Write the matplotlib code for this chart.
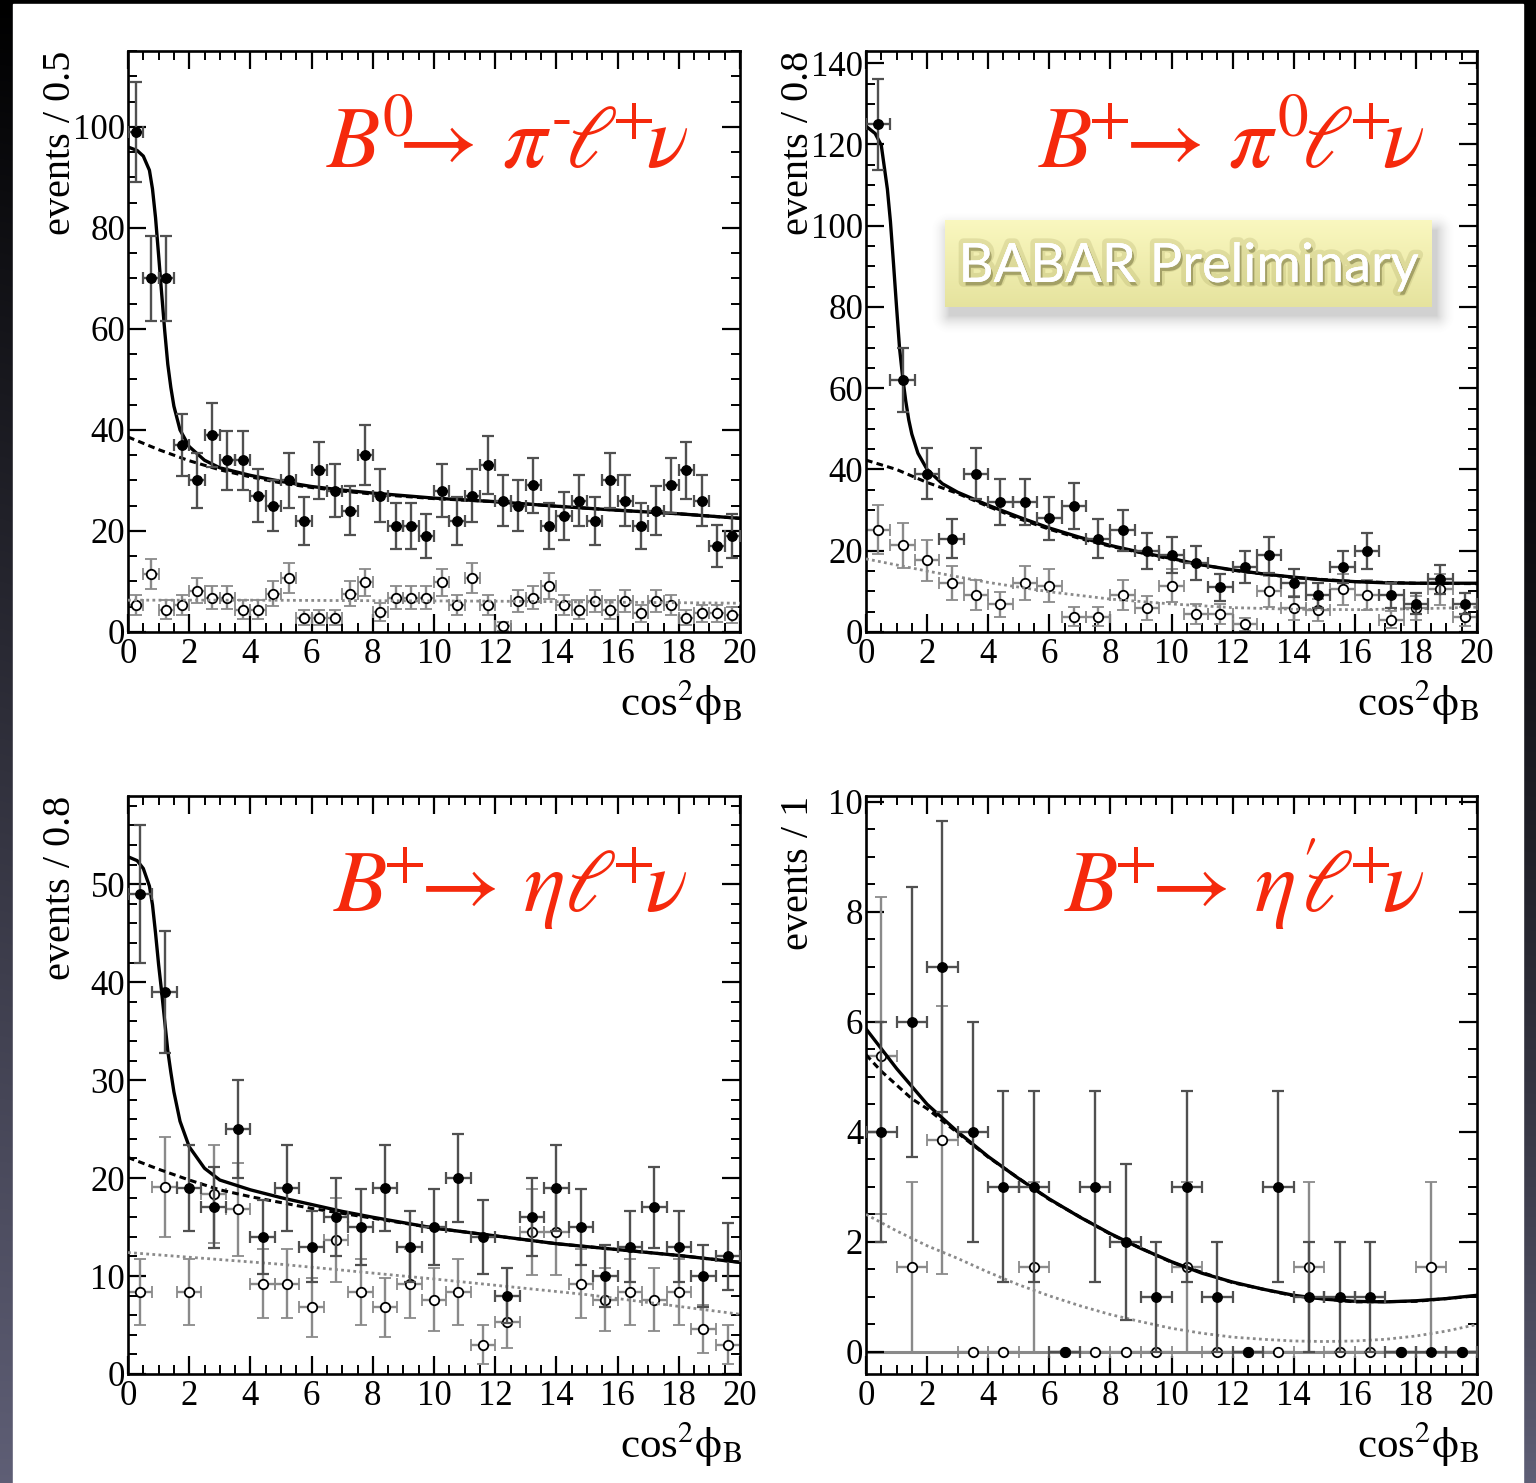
import numpy as np
import matplotlib
matplotlib.use('Agg')
import matplotlib.pyplot as plt
from matplotlib import patheffects
from matplotlib.patches import Rectangle
from matplotlib.ticker import MultipleLocator

plt.rcParams['font.family'] = ['Liberation Serif', 'DejaVu Serif']
plt.rcParams['mathtext.fontset'] = 'stix'

# ---- B0 -> pi- l+ nu  (bins of 0.5) ----
pim_width = 0.5
pim_counts = [99, 70, 70, 37, 30, 39, 34, 34, 27, 25, 30, 22, 32, 28, 24, 35, 27, 21, 21, 19,
              28, 22, 27, 33, 26, 25, 29, 21, 23, 26, 22, 30, 26, 21, 24, 29, 32, 26, 17, 19]
pim_offres = [5.3, 11.5, 4.4, 5.3, 8.2, 6.8, 6.8, 4.4, 4.4, 7.6, 10.7, 2.8, 2.8, 2.8, 7.6, 9.8,
              3.9, 6.8, 6.8, 6.8, 9.8, 5.3, 10.7, 5.3, 1.1, 6.1, 6.8, 9.1, 5.3, 4.4, 6.1, 4.4,
              6.1, 3.7, 6.1, 5.3, 2.8, 3.7, 3.7, 3.4]
pim_offres_w = 0.78
pim_tot_x = [0, 0.3, 0.5, 0.7, 0.8, 0.9, 1.0, 1.1, 1.2, 1.3, 1.4, 1.5, 1.7, 2.0, 2.5, 3, 4, 5,
             6, 7, 8, 10, 12, 14, 16, 18, 20]
pim_tot_y = [96, 95.3, 94.2, 91.4, 87.7, 82, 74.6, 67, 59.6, 53, 48.4, 44.7, 40, 36.7, 34,
             32.5, 31.0, 29.8, 28.8, 28.1, 27.5, 26.5, 25.8, 24.9, 24.1, 23.4, 22.5]
pim_bkg_x = [0, 1, 2, 3, 4, 5, 6, 7, 8, 10, 12, 14, 16, 18, 20]
pim_bkg_y = [38.6, 36.1, 33.9, 32.1, 30.7, 29.5, 28.6, 27.9, 27.3, 26.4, 25.8, 24.9, 24.1, 23.4, 22.5]
pim_cont_x = [0, 4, 8, 12, 16, 20]
pim_cont_y = [6.3, 6.3, 6.2, 6.1, 5.9, 5.7]

# ---- B+ -> pi0 l+ nu  (bins of 0.8) ----
pi0_width = 0.8
pi0_counts = [125, 62, 39, 23, 39, 32, 32, 28, 31, 23, 25, 20, 19, 17, 11, 16, 19, 12, 9, 16,
              20, 9, 7, 13, 7]
pi0_offres = [25.2, 21.3, 17.6, 12.0, 9.1, 6.8, 12.0, 11.4, 3.8, 3.8, 9.1, 5.9, 11.4, 4.4, 4.4,
              1.9, 10.0, 5.9, 5.4, 10.5, 9.1, 3.0, 6.0, 10.5, 3.8]
pi0_offres_w = 1.43
pi0_tot_x = [0, 0.3, 0.5, 0.7, 0.8, 0.9, 1.0, 1.1, 1.2, 1.3, 1.4, 1.5, 1.7, 2.0, 2.5, 3, 4, 5,
             6, 7, 8, 9, 10, 11, 12, 13, 14, 15, 16, 17, 18, 20]
pi0_tot_y = [124.5, 122.7, 119.8, 109, 101, 90.7, 80, 69.7, 62.7, 56.9, 52.2, 48.7, 44, 40,
             36.5, 34.4, 31.2, 28.3, 25.6, 23.3, 21.3, 19.6, 18.1, 16.5, 15.3, 14.3, 13.5,
             12.8, 12.4, 12.1, 12.0, 12.0]
pi0_bkg_x = [0, 1, 2, 3, 4, 5, 6, 7, 8, 10, 12, 14, 16, 18, 20]
pi0_bkg_y = [42.3, 40, 36.8, 34.1, 30.9, 27.9, 25.3, 23, 21.1, 17.9, 15.2, 13.4, 12.4, 12, 11.9]
pi0_cont_x = [0, 2, 4, 6, 8, 10, 12, 14, 16, 18, 20]
pi0_cont_y = [18, 15, 12.2, 9.9, 8.1, 6.9, 6.0, 5.6, 5.5, 5.7, 6.1]

# ---- B+ -> eta l+ nu  (bins of 0.8) ----
eta_width = 0.8
eta_counts = [49, 39, 19, 17, 25, 14, 19, 13, 16, 15, 19, 13, 15, 20, 14, 8, 16, 19, 15, 10,
              13, 17, 13, 10, 12]
eta_offres = [8.4, 19.1, 8.4, 18.4, 16.8, 9.2, 9.2, 6.8, 13.7, 8.4, 6.8, 9.2, 7.6, 8.4, 3.0,
              5.3, 14.5, 14.5, 9.2, 7.6, 8.4, 7.6, 8.4, 4.6, 3.0]
eta_offres_w = 1.35
eta_tot_x = [0, 0.3, 0.5, 0.7, 0.8, 0.9, 1.0, 1.1, 1.2, 1.3, 1.4, 1.5, 1.7, 2.0, 2.5, 3, 4, 5,
             6, 7, 8, 10, 12, 14, 16, 18, 20]
eta_tot_y = [52.8, 52.4, 51.6, 49.8, 47.9, 45, 41.8, 39, 36, 33, 30.8, 28.8, 25.8, 23.2, 21,
             19.8, 18.8, 18, 17.3, 16.6, 16, 14.9, 14.1, 13.3, 12.7, 12.1, 11.4]
eta_bkg_x = [0, 1, 2, 3, 4, 5, 6, 7, 8, 10, 12, 14, 16, 18, 20]
eta_bkg_y = [22.1, 20.9, 19.8, 18.8, 18.1, 17.5, 16.9, 16.4, 15.9, 14.9, 14.1, 13.3, 12.7, 12.1, 11.4]
eta_cont_x = [0, 5, 10, 15, 20]
eta_cont_y = [12.4, 11.2, 9.7, 8.1, 6.1]

# ---- B+ -> eta' l+ nu  (bins of 1) ----
etap_width = 1.0
etap_counts = [4, 6, 7, 4, 3, 3, 0, 3, 2, 1, 3, 1, 0, 3, 1, 1, 1, 0, 0, 0]
etap_offres = [5.38, 1.54, 3.85, 0, 0, 1.54, 0, 0, 0, 0, 1.54, 0, 0, 0, 1.54, 0, 0, 0, 1.54, 0]
etap_offres_w = 1.54
etap_tot_x = [0, 1, 2, 3, 4, 5, 6, 7, 8, 9, 10, 11, 12, 13, 14, 15, 16, 17, 18, 19, 20]
etap_tot_y = [5.87, 5.15, 4.5, 4.0, 3.55, 3.15, 2.78, 2.45, 2.15, 1.88, 1.64, 1.43, 1.27,
              1.14, 1.03, 0.96, 0.92, 0.91, 0.93, 0.97, 1.03]
etap_bkg_x = [0, 0.5, 1, 1.5, 2, 3, 4, 6, 8, 10, 12, 14, 16, 18, 20]
etap_bkg_y = [5.4, 5.1, 4.85, 4.6, 4.42, 3.98, 3.54, 2.77, 2.14, 1.63, 1.26, 1.02, 0.91, 0.92, 1.02]
etap_cont_x = [0, 1, 2, 3, 4, 5, 6, 7, 8, 9, 10, 11, 12, 13, 14, 15, 16, 17, 18, 19, 20]
etap_cont_y = [2.5, 2.2, 1.93, 1.7, 1.45, 1.22, 1.02, 0.84, 0.68, 0.55, 0.43, 0.34, 0.27,
               0.23, 0.2, 0.19, 0.2, 0.23, 0.29, 0.38, 0.5]

RED = '#f5290c'

fig = plt.figure(figsize=(15.36, 14.83), dpi=100)

# dark slide background with a white sheet on top
bg = fig.add_axes([0, 0, 1, 1])
bg.set_axis_off()
yy, xx = np.mgrid[0:1:300j, 0:1:300j]
shade = yy ** (1.0 + 0.9 * xx)
bg.imshow(shade[..., None] * np.array([0.37, 0.37, 0.46]), extent=[0, 1536, 1483, 0],
          aspect='auto', interpolation='bilinear')
bg.add_patch(Rectangle((13, 4), 1510, 1479, color='white'))
bg.set_xlim(0, 1536)
bg.set_ylim(1483, 0)


def draw_panel(rect, width, counts, offres, w, tot, bkg, cont, ylim, major, minor,
               ylabel, title, zero_line=False):
    ax = fig.add_axes(rect)
    n = len(counts)
    centers = width * (np.arange(n) + 0.5)
    counts = np.asarray(counts, float)
    offres = np.asarray(offres, float)

    if zero_line:
        ax.axhline(0, color='#8a8a8a', lw=2.2, zorder=1)
    ax.errorbar(centers, offres, xerr=width / 2, yerr=np.sqrt(offres * w), fmt='o',
                ms=6.8, mfc='white', mec='black', mew=1.3, ecolor='#8a8a8a',
                elinewidth=1.7, capsize=4, capthick=1.6, zorder=2)
    ax.plot(cont[0], cont[1], color='#8a8a8a', lw=2, ls=(0, (1, 1.2)), zorder=3)
    ax.plot(bkg[0], bkg[1], color='black', lw=2.2, ls=(0, (2.2, 1.4)), zorder=3)
    ax.plot(tot[0], tot[1], color='black', lw=2.4, zorder=3)
    ax.errorbar(centers, counts, xerr=width / 2, yerr=np.sqrt(counts), fmt='o',
                ms=6.8, mfc='black', mec='black', ecolor='#505050',
                elinewidth=1.7, capsize=4, capthick=1.6, zorder=4)

    ax.set_xlim(0, 20)
    ax.set_ylim(*ylim)
    ax.xaxis.set_major_locator(MultipleLocator(2))
    ax.xaxis.set_minor_locator(MultipleLocator(0.5))
    ax.yaxis.set_major_locator(MultipleLocator(major))
    ax.yaxis.set_minor_locator(MultipleLocator(minor))
    ax.tick_params(which='both', direction='in', top=True, right=True, labelsize=25)
    ax.tick_params(which='major', length=13, width=1.6)
    ax.tick_params(which='minor', length=6.5, width=1.4)
    ax.tick_params(axis='x', pad=4)
    ax.tick_params(axis='y', pad=2)
    for s in ax.spines.values():
        s.set_linewidth(1.9)

    ax.text(-0.110, 1.0, ylabel, transform=ax.transAxes, rotation=90, ha='center',
            va='top', fontsize=29)
    ax.text(1.003, -0.079, r'cos$^{2}\mathrm{\phi}_{\mathrm{B}}$', transform=ax.transAxes,
            ha='right', va='top', fontsize=31)
    ax.text(0.915, 0.80, title, transform=ax.transAxes, ha='right', va='baseline',
            color=RED, fontsize=63)
    return ax


left1, left2 = 128 / 1536, 866 / 1536
w1, w2 = 612 / 1536, 611 / 1536
top_b, top_h = (1483 - 632) / 1483, (632 - 51) / 1483
bot_b, bot_h = (1483 - 1374) / 1483, (1374 - 796) / 1483

draw_panel([left1, top_b, w1, top_h], pim_width, pim_counts, pim_offres, pim_offres_w,
           (pim_tot_x, pim_tot_y), (pim_bkg_x, pim_bkg_y), (pim_cont_x, pim_cont_y),
           (0, 115), 20, 5, 'events / 0.5',
           r'$B^{\!0}\!\!\!\rightarrow\,\pi^{\text{-}}\!\ell^{\!\!\!+}\!\!\nu$')
draw_panel([left2, top_b, w2, top_h], pi0_width, pi0_counts, pi0_offres, pi0_offres_w,
           (pi0_tot_x, pi0_tot_y), (pi0_bkg_x, pi0_bkg_y), (pi0_cont_x, pi0_cont_y),
           (0, 143), 20, 5, 'events / 0.8',
           r'$B^{\!\!\!+}\!\!\!\rightarrow\,\pi^{0}\!\ell^{\!\!\!+}\!\!\nu$')
draw_panel([left1, bot_b, w1, bot_h], eta_width, eta_counts, eta_offres, eta_offres_w,
           (eta_tot_x, eta_tot_y), (eta_bkg_x, eta_bkg_y), (eta_cont_x, eta_cont_y),
           (0, 59), 10, 2, 'events / 0.8',
           r'$B^{\!\!\!+}\!\!\!\rightarrow\,\eta\ell^{\!\!\!+}\!\!\nu$')
draw_panel([left2, bot_b, w2, bot_h], etap_width, etap_counts, etap_offres, etap_offres_w,
           (etap_tot_x, etap_tot_y), (etap_bkg_x, etap_bkg_y), (etap_cont_x, etap_cont_y),
           (-0.4, 10.1), 2, 0.5, 'events / 1',
           r'$B^{\!\!\!+}\!\!\!\rightarrow\,\eta^{\prime}\!\!\ell^{\!\!\!+}\!\!\nu$',
           zero_line=True)

# "BABAR Preliminary" sticker with a soft drop shadow
ov = fig.add_axes([0, 0, 1, 1], zorder=10)
ov.set_axis_off()
ov.patch.set_alpha(0)
bx0, by0, bx1, by1 = 945, 220, 1432, 307
sy, sx = np.mgrid[190:345, 915:1465]
dx = np.maximum(np.maximum(bx0 + 4 - sx, sx - bx1 - 4), 0)
dy = np.maximum(np.maximum(by0 + 10 - sy, sy - by1 - 8), 0)
dist = np.hypot(dx, dy)
shadow = np.zeros(sx.shape + (4,))
shadow[..., :3] = 0.4
shadow[..., 3] = np.clip(1 - dist / 20, 0, 1) ** 2 * 0.3
ov.imshow(shadow, extent=[915, 1465, 345, 190], interpolation='bilinear', zorder=1)
grad = np.linspace(0, 1, 100)[:, None, None]
top_c, bot_c = np.array([0.98, 0.97, 0.75]), np.array([0.90, 0.89, 0.62])
box = (top_c * (1 - grad) + bot_c * grad) * np.ones((1, 10, 1))
ov.imshow(box, extent=[bx0, bx1, by1, by0], aspect='auto', interpolation='bilinear', zorder=2)
ov.text((bx0 + bx1) / 2, (by0 + by1) / 2 + 3, 'BABAR Preliminary', ha='center',
        va='center', fontsize=39, color='white', family='Lato', zorder=3,
        path_effects=[patheffects.withStroke(linewidth=7, foreground=(0.55, 0.53, 0.25, 0.18)),
                      patheffects.withSimplePatchShadow(offset=(1.5, -2.5),
                                                        shadow_rgbFace='#6f6c38',
                                                        alpha=0.5),
                      patheffects.Normal()])
ov.set_xlim(0, 1536)
ov.set_ylim(1483, 0)

fig.savefig('out.png', dpi=100)
